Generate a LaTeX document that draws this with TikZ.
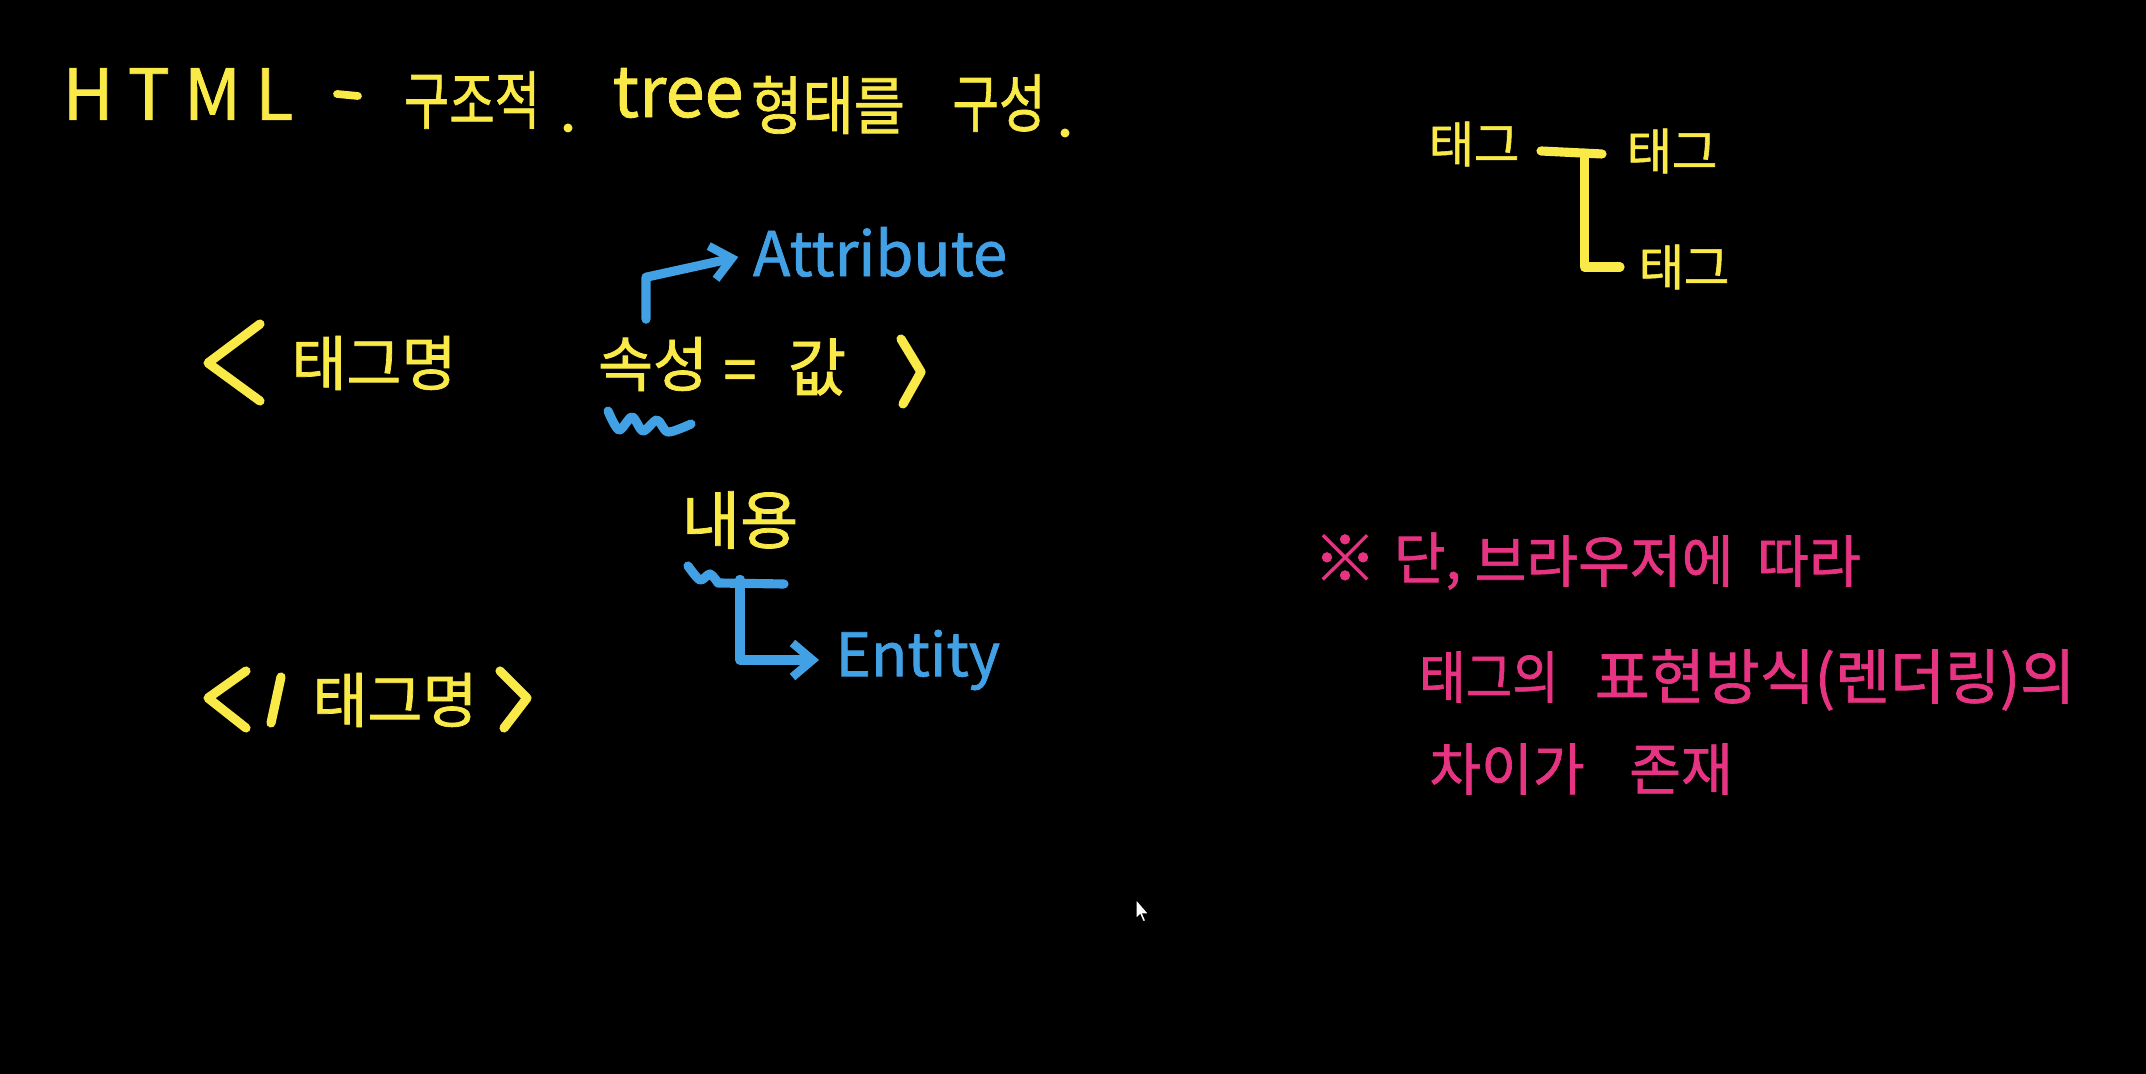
\documentclass[tikz,border=0pt]{standalone}
\usepackage{fontspec}
\usepackage{graphicx}
\usetikzlibrary{arrows.meta,calc}
\newfontfamily\kr{Noto Sans CJK KR}[FakeBold=1.2]
\newcommand\kfs[1]{\fontsize{#1pt}{#1pt}\selectfont}
\definecolor{yel}{RGB}{250,234,72}
\definecolor{blu}{RGB}{66,160,228}
\definecolor{pnk}{RGB}{230,52,130}
\tikzset{
  yt/.style={text=yel, inner sep=0pt},
  bt/.style={text=blu, inner sep=0pt},
  pt/.style={text=pnk, inner sep=0pt},
  ystroke/.style={draw=yel, line width=2.6pt, line cap=round, line join=round},
  bstroke/.style={draw=blu, line width=2.6pt, line cap=round, line join=round},
  barrow/.style={bstroke, -{Straight Barb[length=2mm,width=3.4mm,line width=2.4pt]}},
}
\begin{document}
\begin{tikzpicture}[x=0.01cm,y=-0.01cm]
\fill[black] (0,0) rectangle (2146,1074);
\useasboundingbox (0,0) rectangle (2146,1074);

% title
\node[yt, font=\kr\kfs{20}] (html) at (178,94) {H\hspace{0.2em}T\hspace{0.2em}M\hspace{0.2em}L};
\draw[ystroke, line width=2.2pt] (337,94) -- (358,96);
\node[yt, font=\kr\kfs{18}] (gjj) at (472,100) {\scalebox{0.78}[1]{구조적}};
\fill[yel] (568,128) circle (4.5);
\node[yt, font=\kr\kfs{20}] (tree) at (678,93) {tree};
\node[yt, font=\kr\kfs{18}] (form) at (828,105) {\scalebox{0.88}[1]{형태를}};
\node[yt, font=\kr\kfs{18}] (gs) at (999,103) {\scalebox{0.8}[1]{구성}};
\fill[yel] (1065,133) circle (4.5);

% opening tag
\draw[ystroke] (260,324) -- (208,363) -- (260,401);
\node[yt, font=\kr\kfs{17}] (tagname) at (374,363) {태그명};
\node[yt, font=\kr\kfs{17}] (sok) at (653,364) {속성};
\node[yt, font=\kr\kfs{17}] (eq) at (740,376) {=};
\node[yt, font=\kr\kfs{18}] (val) at (817,367) {값};
\draw[ystroke] (901,339) -- (921,372) -- (903,404);

\node[bt, font=\kr\kfs{17.5}] (attr) at (880,252) {Attribute};
\draw[barrow] ($(sok.north)+(-7,-17)$) -- ++(0,-42) -- ($(attr.west)+(-14,5)$);
\draw[bstroke] plot[smooth] coordinates {(608,411) (619,430) (632,417) (643,431) (657,420) (668,432) (691,424)};

% content
\node[yt, font=\kr\kfs{18}] (nae) at (740,520) {내용};
\draw[bstroke] plot[smooth] coordinates {(688,566) (700,580) (710,574) (718,583)} -- (784,584);
\node[bt, font=\kr\kfs{17}, anchor=west] (ent) at (835,660) {Entity};
\draw[barrow] ($(nae.south)+(0,30)$) |- ($(ent.west)+(-16,0)$);

% closing tag
\draw[ystroke] (246,671) -- (208,698) -- (246,728);
\draw[ystroke] (281,677) -- (271,723);
\node[yt, font=\kr\kfs{17}] (tagname2) at (395,700) {태그명};
\draw[ystroke] (500,671) -- (527,698) -- (504,728);

% tree on the right
\node[yt, font=\kr\kfs{14}] (tA) at (1474,144) {태그};
\node[yt, font=\kr\kfs{14}] (tB) at (1672,151) {태그};
\node[yt, font=\kr\kfs{14}] (tC) at (1684,267) {태그};
\coordinate (j1) at ($(tA.east)+(21,7)$);
\coordinate (j2) at ($(tB.west)+(-24,3)$);
\coordinate (j3) at ($(j1)!0.71!(j2)$);
\draw[ystroke] (j1) -- (j2);
\draw[ystroke] (j3) |- ($(tC.west)+(-18,0)$);

% note (pink)
\node[pt, font=\kr\kfs{18}] (kome) at (1345,558) {※};
\node[pt, font=\kr\kfs{16}, anchor=west] (dan) at (1393,561) {단,};
\node[pt, font=\kr\kfs{16}] (brow) at (1604,561) {브라우저에};
\node[pt, font=\kr\kfs{16}] (ttara) at (1809,561) {따라};
\node[pt, font=\kr\kfs{16}] (tagui) at (1489,677) {\scalebox{0.9}[1]{태그의}};
\node[pt, font=\kr\kfs{17}] (pyo) at (1835,680) {표현방식(렌더링)의};
\node[pt, font=\kr\kfs{16}] (chai) at (1507,769) {차이가};
\node[pt, font=\kr\kfs{16}] (jon) at (1681,769) {존재};

% mouse pointer
\draw[fill=white, draw=black, line width=0.4pt] (1136,899) -- (1136,919) -- (1140,915) -- (1143,922) -- (1146,921) -- (1143,914) -- (1149,914) -- cycle;
\end{tikzpicture}
\end{document}
